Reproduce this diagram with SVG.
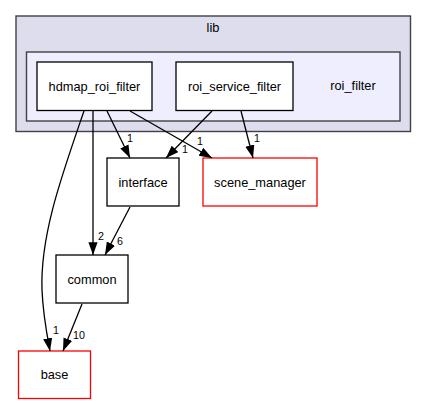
<svg xmlns="http://www.w3.org/2000/svg" width="427" height="404" viewBox="0 0 427 404">
<style>
text{font-family:"Liberation Sans",Arial,sans-serif;fill:#000}
.t{font-size:12.8px;text-anchor:middle}
.l{font-size:10.7px;text-anchor:middle}
.cl{stroke:#404040;stroke-width:1.4}
.n{fill:#fff;stroke:#000;stroke-width:1.3}
.r{fill:#fff;stroke:#ff0000;stroke-width:1.3}
.e{fill:none;stroke:#000;stroke-width:1.3}
</style>
<defs>
<marker id="a" markerUnits="userSpaceOnUse" markerWidth="14" markerHeight="12" refX="12.8" refY="4.6" orient="auto">
<path d="M0,0 L12.8,4.6 L0,9.2 Z" fill="#000"/>
</marker>
</defs>
<rect width="427" height="404" fill="#fff"/>
<g id="cluster_lib">
<rect class="cl" x="16" y="16" width="394.5" height="115.5" fill="#ddddee"/>
<text class="t" x="213" y="31.5">lib</text>
</g>
<g id="cluster_roi_filter">
<rect class="cl" x="26.5" y="52" width="373.5" height="69" fill="#eeeeff"/>
<text class="t" x="353" y="90">roi_filter</text>
</g>
<g id="node_hdmap_roi_filter">
<rect class="n" x="37" y="62" width="115" height="48.5"/>
<text class="t" x="94.5" y="90.5">hdmap_roi_filter</text>
</g>
<g id="node_roi_service_filter">
<rect class="n" x="176" y="62" width="117" height="48.5"/>
<text class="t" x="234.5" y="90.5">roi_service_filter</text>
</g>
<g id="node_interface">
<rect class="n" x="107" y="158" width="72" height="48"/>
<text class="t" x="143" y="186.5">interface</text>
</g>
<g id="node_scene_manager">
<rect class="r" x="203" y="158" width="114" height="48"/>
<text class="t" x="260" y="186.5">scene_manager</text>
</g>
<g id="node_common">
<rect class="n" x="56" y="255" width="72" height="48"/>
<text class="t" x="92" y="283.5">common</text>
</g>
<g id="node_base">
<rect class="r" x="18.5" y="351" width="72" height="47.5"/>
<text class="t" x="54.5" y="379">base</text>
</g>
<g id="connectors">
<path class="e" marker-end="url(#a)" d="M84,111 C62,175 40,235 42,290 C43,315 47,335 50,351"/>
<path class="e" marker-end="url(#a)" d="M93,111 L93,255"/>
<path class="e" marker-end="url(#a)" d="M107,111 L130,158"/>
<path class="e" marker-end="url(#a)" d="M130,111 L212,158"/>
<path class="e" marker-end="url(#a)" d="M212,111 L166,158"/>
<path class="e" marker-end="url(#a)" d="M241,111 L253,158"/>
<path class="e" marker-end="url(#a)" d="M130,207 L105,255"/>
<path class="e" marker-end="url(#a)" d="M82,304 L63,351"/>
<text class="l" x="130" y="142">1</text>
<text class="l" x="185" y="153">1</text>
<text class="l" x="200" y="145">1</text>
<text class="l" x="257" y="142">1</text>
<text class="l" x="101" y="239.5">2</text>
<text class="l" x="120" y="245">6</text>
<text class="l" x="56" y="334">1</text>
<text class="l" x="79" y="339">10</text>
</g>
</svg>
